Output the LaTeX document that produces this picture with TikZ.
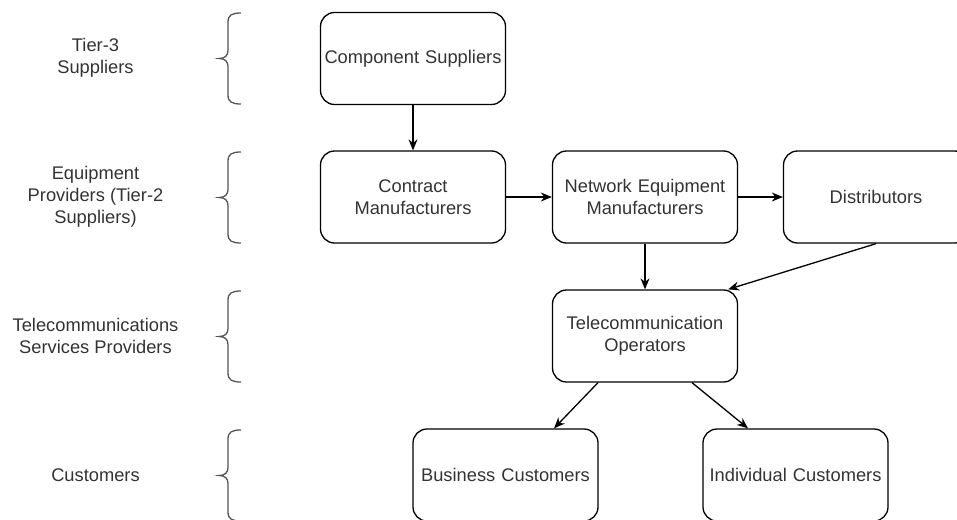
\documentclass[tikz,border=0pt]{standalone}
\usepackage{fontspec}
\setmainfont{Liberation Sans}
\usetikzlibrary{arrows.meta}
\definecolor{txt}{HTML}{333333}
\definecolor{bracec}{HTML}{555555}
\begin{document}
\begin{tikzpicture}[x=1pt,y=-1pt,
  box/.style={draw=black, line width=1.3pt, rounded corners=14pt,
    minimum width=185pt, minimum height=92pt, align=center,
    text width=180pt, inner sep=0pt, text=txt,
    font=\fontsize{18.3}{22}\selectfont},
  lbl/.style={align=center, text=txt, inner sep=0pt,
    font=\fontsize{18.3}{22}\selectfont},
  arr/.style={draw=black, line width=1.3pt, -{Stealth[length=11pt,width=9pt]}},
  brc/.style={draw=bracec, line width=1.3pt}
]
\useasboundingbox (0,0) rectangle (957,519);

% brace: top y, bottom y
\newcommand{\tierbrace}[2]{%
  \pgfmathsetmacro{\ym}{(#1+#2)/2}
  \draw[brc] (241,#1) .. controls (232,#1) and (228,#1+2) .. (228,#1+9)
    -- (228,\ym-8) .. controls (228,\ym-3) and (225,\ym) .. (219,\ym)
    .. controls (225,\ym) and (228,\ym+3) .. (228,\ym+8)
    -- (228,#2-9) .. controls (228,#2-2) and (232,#2) .. (241,#2);}

\tierbrace{13}{104}
\tierbrace{152}{243}
\tierbrace{291}{382}
\tierbrace{430}{521}

% tier labels
\node[lbl] (l1) at (95.5,58) {Tier-3\\Suppliers};
\node[lbl] (l2) at (95.5,197) {Equipment\\Providers (Tier-2\\Suppliers)};
\node[lbl] (l3) at (95.5,336) {Telecommunications\\Services Providers};
\node[lbl] (l4) at (95.5,475) {Customers};

% supply chain boxes
\node[box] (comp) at (413,58.5) {Component Suppliers};
\node[box] (cm)   at (413,197)  {Contract\\Manufacturers};
\node[box] (nem)  at (645,197)  {Network Equipment\\Manufacturers};
\node[box] (dist) at (876,197)  {Distributors};
\node[box] (tel)  at (645,336)  {Telecommunication\\Operators};
\node[box] (bus)  at (505.5,475) {Business Customers};
\node[box] (ind)  at (795.5,475) {Individual Customers};

% flows
\draw[arr] (comp) -- (cm);
\draw[arr] (cm) -- (nem);
\draw[arr] (nem) -- (dist);
\draw[arr] (nem) -- (tel);
\draw[arr] (dist.south) -- ([xshift=-10pt]tel.north east);
\draw[arr] ([xshift=-47pt]tel.south) -- ([xshift=48.5pt]bus.north);
\draw[arr] ([xshift=47pt]tel.south) -- ([xshift=-47.5pt]ind.north);
\end{tikzpicture}
\end{document}
